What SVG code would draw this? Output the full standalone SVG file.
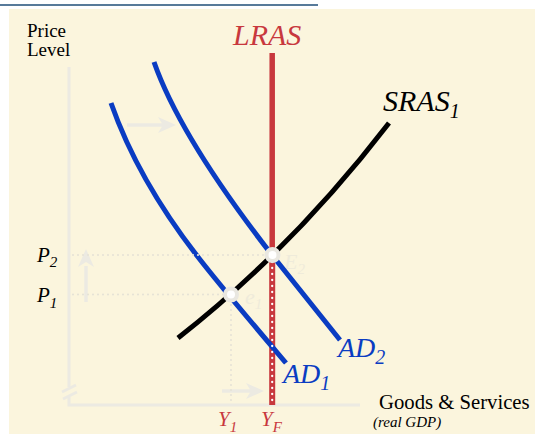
<svg xmlns="http://www.w3.org/2000/svg" width="535" height="434" viewBox="0 0 535 434">
<style>
.serif{font-family:"Liberation Serif","Times New Roman",serif}
.it{font-style:italic}
.guide{fill:none;stroke:#E6E3D6;stroke-width:2.2;stroke-linecap:round;stroke-dasharray:0 5}
.axis{fill:none;stroke:#ECEAE2;stroke-width:3}
.shift{fill:none;stroke:#ECEAE2;stroke-width:3.5}
.shiftHead{fill:#ECEAE2}
.ad{fill:none;stroke:#0A3CC2;stroke-width:5}
.eq{fill:#FFFFFF;stroke:#E9E7E0;stroke-width:4}
.faint{fill:#EFEBDA}
</style>
<rect x="0" y="0" width="535" height="434" fill="#FFFFFF"/>
<line x1="0" y1="5" x2="318" y2="5" stroke="#1F4E79" stroke-width="1.5"/>
<rect x="9" y="9" width="526" height="425" fill="#FBF5DD"/>

<g id="axes">
  <path class="axis" d="M69,67 V387 M69,397 V405 H360"/>
  <path class="axis" d="M62,392 L76,385 M63,399 L77,392"/>
</g>

<g id="faint-labels" class="serif it">
  <text class="faint" x="284" y="269" font-size="22">E<tspan font-size="15" dy="5">2</tspan></text>
  <text class="faint" x="245" y="304" font-size="22">e<tspan font-size="15" dy="5">1</tspan></text>
</g>

<g id="shift-arrows">
  <path class="shift" d="M127,125 H166"/>
  <path class="shiftHead" d="M158,117 L176,125 L158,133 L163,125 Z"/>
  <path class="shift" d="M86,302 V266"/>
  <path class="shiftHead" d="M78,267 L86,249 L94,267 L86,262 Z"/>
  <path class="shift" d="M222,391 H254"/>
  <path class="shiftHead" d="M246,383 L264,391 L246,399 L251,391 Z"/>
</g>

<g id="lras">
  <line x1="272.2" y1="53" x2="272.2" y2="258" stroke="#C8383D" stroke-width="5.5"/>
  <line x1="272.2" y1="258" x2="272.2" y2="405" stroke="#C8383D" stroke-width="6"/>
  <text class="serif it" x="233" y="45" font-size="30" fill="#C8383D">LRAS</text>
</g>

<g id="connectors">
  <path class="ad" id="ad1-curve" d="M111,103 Q138,180 198,257 C222,288 260.5,333 286,363"/>
  <path class="ad" id="ad2-curve" d="M154,62 Q180.5,137.6 272,255 L340,340"/>
  <path id="sras-curve" d="M178,338 Q292,249 389,123" fill="none" stroke="#000000" stroke-width="5"/>
  <path class="guide" d="M73,255 H268 M73,294.5 H226 M231,300 V402"/>
  <path d="M272.2,262 V403" fill="none" stroke="#FFFFFF" stroke-width="2.3" stroke-linecap="round" stroke-dasharray="0 6"/>
</g>

<g id="e1"><circle class="eq" cx="231" cy="294.5" r="6"/></g>
<g id="e2"><circle class="eq" cx="272.5" cy="255" r="6"/></g>

<g id="sras-label">
  <text class="serif it" x="383" y="111" font-size="30" fill="#000000">SRAS<tspan font-size="20" dy="7">1</tspan></text>
</g>
<g id="ad1-label">
  <text class="serif it" x="283" y="383" font-size="28" fill="#0A3CC2">AD<tspan font-size="20" dy="7">1</tspan></text>
</g>
<g id="ad2-label">
  <text class="serif it" x="338" y="357" font-size="28" fill="#0A3CC2">AD<tspan font-size="20" dy="7">2</tspan></text>
</g>

<g id="y-axis-label" class="serif" font-size="19" fill="#000000">
  <text x="27" y="37">Price</text>
  <text x="27" y="56">Level</text>
</g>
<g id="x-axis-label" class="serif" fill="#000000">
  <text x="379" y="409" font-size="20.7">Goods &amp; Services</text>
  <text class="it" x="373" y="427" font-size="15">(real GDP)</text>
</g>

<g id="price-labels" class="serif it" fill="#000000">
  <text x="37" y="262" font-size="21">P<tspan font-size="15" dy="5">2</tspan></text>
  <text x="37" y="302" font-size="21">P<tspan font-size="15" dy="6">1</tspan></text>
</g>
<g id="output-labels" class="serif it" fill="#C8383D">
  <text x="218" y="426" font-size="21">Y<tspan font-size="15" dy="6">1</tspan></text>
  <text x="261" y="426" font-size="21">Y<tspan font-size="15" dy="6">F</tspan></text>
</g>
</svg>
